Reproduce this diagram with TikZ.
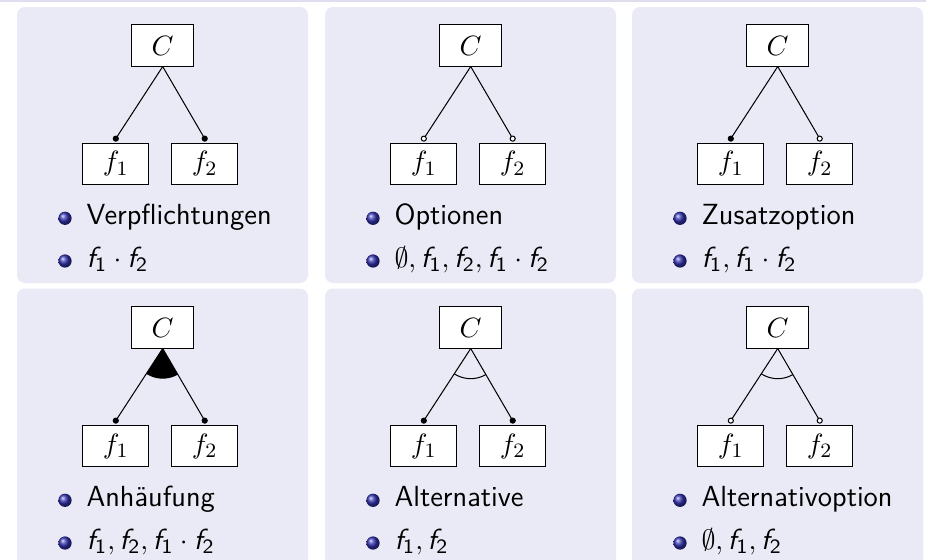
\documentclass[tikz,border=0pt]{standalone}
\usepackage{amsmath}
\usepackage{fontspec}
\definecolor{panelbg}{RGB}{234,234,246}
\definecolor{stripbg}{RGB}{222,222,240}
\definecolor{ballblue}{rgb}{0.2,0.2,0.7}
\newcommand{\fsub}[1]{\text{\sffamily\itshape f}_{\text{\sffamily\upshape #1}}}
\tikzset{
  cbox/.style={draw, line width=0.4pt, fill=white, minimum width=24.3pt, minimum height=16.1pt, inner sep=0pt, font=\fontsize{11}{13}\selectfont},
  fbox/.style={draw, line width=0.4pt, fill=white, minimum width=25.8pt, minimum height=16.3pt, inner sep=0pt, font=\fontsize{11}{13}\selectfont},
  mandot/.style={draw=black, fill=black, line width=0.4pt},
  optdot/.style={draw=black, fill=white, line width=0.4pt},
  itemtext/.style={font=\fontsize{11.4}{13.5}\selectfont\sffamily, inner sep=0pt, anchor=base west},
  edge/.style={line width=0.4pt}
}
% #1 id, #2 panel left, #3 row offset, #4 left dot, #5 right dot, #6 group code, #7 item 1, #8 item 2
\newcommand{\fpanel}[8]{%
  \node[cbox] (C#1) at (#2+145.7, #3+45.5) {$C$};
  \node[fbox] (fa#1) at (#2+98.8, #3+164) {$f_1$};
  \node[fbox] (fb#1) at (#2+187.7, #3+164) {$f_2$};
  \coordinate (da#1) at ([yshift=1.6pt]fa#1.north);
  \coordinate (db#1) at ([yshift=1.6pt]fb#1.north);
  \draw[edge] (C#1.south) -- (da#1);
  \draw[edge] (C#1.south) -- (db#1);
  #6
  \draw[#4] (da#1) circle[radius=1pt];
  \draw[#5] (db#1) circle[radius=1pt];
  \shade[ball color=ballblue] (#2+48, #3+218.3) circle[radius=2.6pt];
  \shade[ball color=ballblue] (#2+48, #3+261) circle[radius=2.6pt];
  \node[itemtext] (ia#1) at (#2+69, #3+224.5) {#7};
  \node[itemtext] (ib#1) at (#2+69, #3+267.5) {#8};
}
\newcommand{\andgroup}[1]{\begin{scope}\clip (C#1.south) -- (da#1) -- (db#1) -- cycle; \fill[black] (C#1.south) circle[radius=11.8pt];\end{scope}}
\newcommand{\orgroup}[1]{\begin{scope}\clip (C#1.south) -- (da#1) -- (db#1) -- cycle; \draw[edge] (C#1.south) circle[radius=11.8pt];\end{scope}}
\begin{document}
\begin{tikzpicture}[x=0.392pt,y=-0.392pt]
\clip (0,0) rectangle (926,559);
\fill[stripbg] (0,0) rectangle (926,1.7);
\foreach \L in {17,325,632} {
  \fill[panelbg, rounded corners=3.1pt] (\L,7) rectangle ++(291,276);
  \fill[panelbg, rounded corners=3.1pt] (\L,288.5) rectangle ++(291,300);
}
\fpanel{1}{17}{0}{mandot}{mandot}{}{Verpflichtungen}{$\fsub{1}\cdot\fsub{2}$}
\fpanel{2}{325}{0}{optdot}{optdot}{}{Optionen}{$\emptyset,\fsub{1},\fsub{2},\fsub{1}\cdot\fsub{2}$}
\fpanel{3}{632}{0}{mandot}{optdot}{}{Zusatzoption}{$\fsub{1},\fsub{1}\cdot\fsub{2}$}
\fpanel{4}{17}{282}{mandot}{mandot}{\andgroup{4}}{Anhäufung}{$\fsub{1},\fsub{2},\fsub{1}\cdot\fsub{2}$}
\fpanel{5}{325}{282}{mandot}{mandot}{\orgroup{5}}{Alternative}{$\fsub{1},\fsub{2}$}
\fpanel{6}{632}{282}{optdot}{optdot}{\orgroup{6}}{Alternativoption}{$\emptyset,\fsub{1},\fsub{2}$}
\end{tikzpicture}
\end{document}
